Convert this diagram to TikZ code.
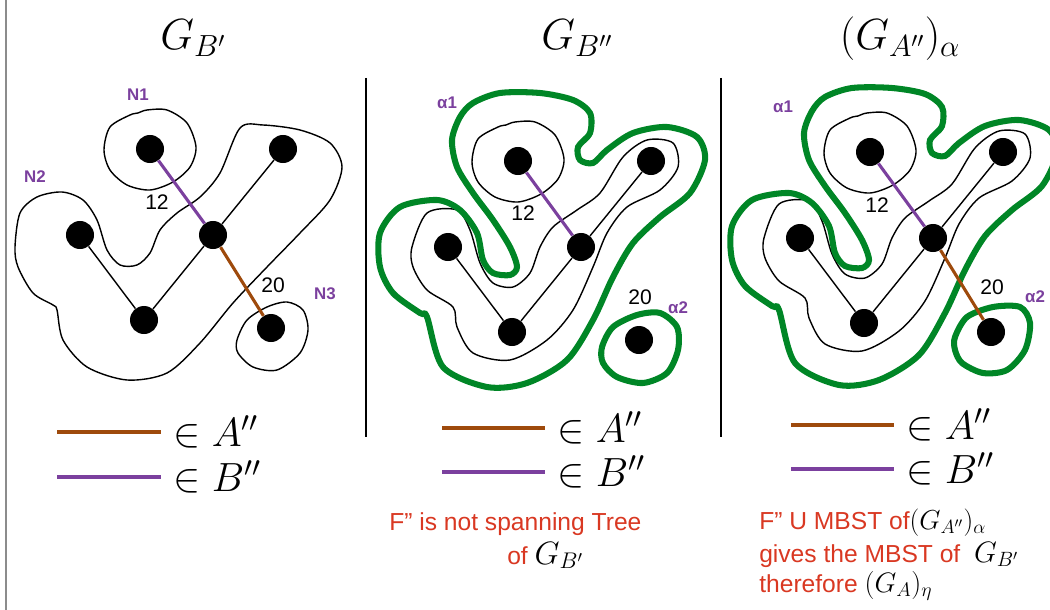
\RequirePackage{fix-cm}
\documentclass[tikz,border=0pt]{standalone}
\usepackage{fontspec}
\usetikzlibrary{positioning}
\newfontfamily\labelfont{Liberation Sans}
\definecolor{edgepurple}{RGB}{123,64,158}
\definecolor{edgebrown}{RGB}{158,74,12}
\definecolor{loopgreen}{RGB}{0,134,38}
\definecolor{notered}{RGB}{217,56,34}
\newcommand{\notemath}[2]{{\color{black}\fontsize{#1}{21}\selectfont$#2$}}
\tikzset{
  vertex/.style={
    circle,
    fill=black,
    minimum size=0.7cm,
    inner sep=0pt
  },
  treeedge/.style={draw=black, line width=1pt},
  bedge/.style={draw=edgepurple, line width=2.2pt},
  aedge/.style={draw=edgebrown, line width=2.2pt},
  thinloop/.style={draw=black, line width=1pt},
  greenloop/.style={draw=loopgreen, line width=4.3pt},
  weight/.style={font=\labelfont\fontsize{15}{18}\selectfont, inner sep=0pt},
  setlabel/.style={font=\labelfont\bfseries\fontsize{12}{14}\selectfont, text=edgepurple, inner sep=0pt},
  paneltitle/.style={font=\fontsize{31}{36}\selectfont, inner sep=0pt, anchor=base},
  legtext/.style={font=\fontsize{29}{34}\selectfont, inner sep=0pt},
  note/.style={font=\labelfont\fontsize{17.5}{21}\selectfont, text=notered, inner sep=0pt, anchor=base west}
}

\begin{document}
\begin{tikzpicture}[x=0.025cm, y=-0.025cm]
\useasboundingbox (0,0) rectangle (1050,610);
\draw[black!45, line width=1pt] (6,0) -- (6,610);
\draw[black, line width=1pt] (366,78) -- (366,437);
\draw[black, line width=1pt] (721,78) -- (721,437);

% titles
\node[paneltitle] (title1) at (193,50) {$G_{B'}$};
\node[paneltitle] (title2) at (577,50) {$G_{B''}$};
\node[paneltitle] (title3) at (900,50) {$(G_{A''})_\alpha$};

% panel 1
\begin{scope}
\draw[thinloop] plot[smooth cycle] coordinates {(104,150) (110,127) (130,115) (138,113) (147,110) (167,110) (187,123) (196,147) (190,167) (173,182) (150,190) (127,185) (110,170)};
\draw[thinloop] plot[smooth cycle] coordinates {(237,340) (247,320) (267,307) (287,302) (303,310) (308,330) (300,353) (277,370) (253,367) (238,353)};
\draw[thinloop] plot[smooth cycle] coordinates {(15,247) (20,213) (37,197) (62,192) (83,200) (97,220) (107,250) (120,265) (137,265) (150,253) (160,230) (177,213) (200,197) (220,173) (240,128) (263,125) (300,130) (330,143) (342,167) (330,200) (300,233) (267,267) (233,303) (200,343) (167,373) (127,380) (87,367) (63,340) (57,310) (53,305) (33,293) (18,267)};
\node[vertex] (p1tl) at (150,149) {};
\node[vertex] (p1tr) at (283,149) {};
\node[vertex] (p1l) at (80,235) {};
\node[vertex] (p1c) at (213,235) {};
\node[vertex] (p1b) at (144,320) {};
\node[vertex] (p1r) at (271,328) {};
\draw[bedge] (p1tl) -- (p1c);
\draw[aedge] (p1c) -- (p1r);
\draw[treeedge] (p1l) -- (p1b);
\draw[treeedge] (p1b) -- (p1c);
\draw[treeedge] (p1c) -- (p1tr);
\node[weight] (p1w12) at (157,202) {12};
\node[weight] (p1w20) at (273,285) {20};
\node[setlabel] (n1) at (138,95) {N1};
\node[setlabel] (n2) at (35,177) {N2};
\node[setlabel] (n3) at (325,294) {N3};
\end{scope}

% panel 2
\begin{scope}[shift={(368,12)}]
\draw[thinloop] plot[smooth cycle] coordinates {(104,150) (110,127) (130,115) (138,113) (147,110) (167,110) (187,123) (196,147) (190,167) (173,182) (150,190) (127,185) (110,170)};
\draw[thinloop] plot[smooth cycle] coordinates {(44,235) (59,201) (89,198) (102,218) (112,251) (125,271) (145,275) (162,261) (172,235) (185,215) (209,198) (232,181) (255,145) (279,128) (305,131) (310,155) (292,178) (259,195) (239,221) (225,255) (205,298) (179,328) (142,348) (105,341) (89,315) (85,295) (59,278) (45,255)};
\draw[greenloop] plot[smooth cycle] coordinates {(92,105) (84,128) (89,155) (105,181) (125,208) (142,235) (149,255) (142,263) (125,261) (115,248) (109,221) (92,198) (69,188) (32,195) (12,221) (12,255) (25,281) (52,301) (59,305) (75,355) (119,375) (159,371) (199,348) (225,308) (245,265) (265,231) (292,205) (322,181) (337,148) (329,125) (299,115) (265,121) (239,138) (225,151) (212,148) (210,135) (222,121) (222,101) (205,88) (172,81) (132,81) (105,91)};
\draw[greenloop] plot[smooth cycle] coordinates {(234,335) (245,315) (269,303) (292,301) (309,315) (310,338) (299,361) (275,371) (249,365) (235,351)};
\node[vertex] (p2tl) at (150,149) {};
\node[vertex] (p2tr) at (283,149) {};
\node[vertex] (p2l) at (80,235) {};
\node[vertex] (p2c) at (213,235) {};
\node[vertex] (p2b) at (144,320) {};
\node[vertex] (p2r) at (271,328) {};
\draw[bedge] (p2tl) -- (p2c);
\draw[treeedge] (p2l) -- (p2b);
\draw[treeedge] (p2b) -- (p2c);
\draw[treeedge] (p2c) -- (p2tr);
\node[weight] (p2w12) at (155,201) {12};
\node[weight] (p2w20) at (272,285) {20};
\node[setlabel] (p2a1) at (79,91) {α1};
\node[setlabel] (p2a2) at (310,296) {α2};
\end{scope}

% panel 3
\begin{scope}[shift={(720,3)}]
\draw[thinloop] plot[smooth cycle] coordinates {(104,150) (110,127) (130,115) (138,113) (147,110) (167,110) (187,123) (196,147) (190,167) (173,182) (150,190) (127,185) (110,170)};
\draw[thinloop] plot[smooth cycle] coordinates {(44,235) (59,201) (89,198) (102,218) (112,251) (125,271) (145,275) (162,261) (172,235) (185,215) (209,198) (232,181) (255,145) (279,128) (305,131) (310,155) (292,178) (259,195) (239,221) (225,255) (205,298) (179,328) (142,348) (105,341) (89,315) (85,295) (59,278) (45,255)};
\draw[greenloop] plot[smooth cycle] coordinates {(92,108) (84,130) (89,157) (105,183) (125,210) (142,237) (149,257) (142,265) (125,263) (115,250) (109,223) (92,200) (69,190) (32,197) (12,223) (12,257) (25,283) (52,303) (59,307) (75,360) (119,382) (159,377) (199,352) (225,310) (245,267) (265,233) (292,207) (322,183) (337,150) (329,127) (299,117) (265,123) (239,140) (225,153) (212,150) (210,137) (222,123) (222,104) (205,91) (172,85) (132,85) (105,94)};
\draw[greenloop] plot[smooth cycle] coordinates {(235,334) (247,314) (273,304) (300,304) (310,320) (305,347) (287,367) (263,370) (242,360) (235,347)};
\node[vertex] (p3tl) at (150,149) {};
\node[vertex] (p3tr) at (283,149) {};
\node[vertex] (p3l) at (80,235) {};
\node[vertex] (p3c) at (213,235) {};
\node[vertex] (p3b) at (144,320) {};
\node[vertex] (p3r) at (271,329) {};
\draw[bedge] (p3tl) -- (p3c);
\draw[aedge] (p3c) -- (p3r);
\draw[treeedge] (p3l) -- (p3b);
\draw[treeedge] (p3b) -- (p3c);
\draw[treeedge] (p3c) -- (p3tr);
\node[weight] (p3w12) at (157,202) {12};
\node[weight] (p3w20) at (272,284) {20};
\node[setlabel] (p3a1) at (63,104) {α1};
\node[setlabel] (p3a2) at (315,294) {α2};
\end{scope}

% legends
\coordinate (l1as) at (57,432);
\coordinate (l1ae) at (161,432);
\coordinate (l1bs) at (57,477);
\coordinate (l1be) at (161,477);
\draw[aedge] (l1as) -- (l1ae);
\draw[bedge] (l1bs) -- (l1be);
\node[legtext, right=0.3cm of l1ae] (l1at) {$\in A''$};
\node[legtext, right=0.3cm of l1be] (l1bt) {$\in B''$};

\coordinate (l2as) at (442,428);
\coordinate (l2ae) at (545,428);
\coordinate (l2bs) at (442,472);
\coordinate (l2be) at (545,472);
\draw[aedge] (l2as) -- (l2ae);
\draw[bedge] (l2bs) -- (l2be);
\node[legtext, right=0.3cm of l2ae] (l2at) {$\in A''$};
\node[legtext, right=0.3cm of l2be] (l2bt) {$\in B''$};

\coordinate (l3as) at (791,425);
\coordinate (l3ae) at (894,425);
\coordinate (l3bs) at (791,469);
\coordinate (l3be) at (894,469);
\draw[aedge] (l3as) -- (l3ae);
\draw[bedge] (l3bs) -- (l3be);
\node[legtext, right=0.3cm of l3ae] (l3at) {$\in A''$};
\node[legtext, right=0.3cm of l3be] (l3bt) {$\in B''$};

% notes
\node[note] (note2a) at (389,530) {F” is not spanning Tree};
\node[note] (note2b) at (507,564) {of \notemath{23}{G_{B'}}};
\node[note] (note3a) at (759,529) {F” U MBST of\notemath{19.5}{(G_{A''})_\alpha}};
\node[note] (note3b) at (759,562) {gives the MBST of\ \ \notemath{21}{G_{B'}}};
\node[note] (note3c) at (759,592) {therefore \notemath{20}{(G_A)_\eta}};
\end{tikzpicture}
\end{document}
